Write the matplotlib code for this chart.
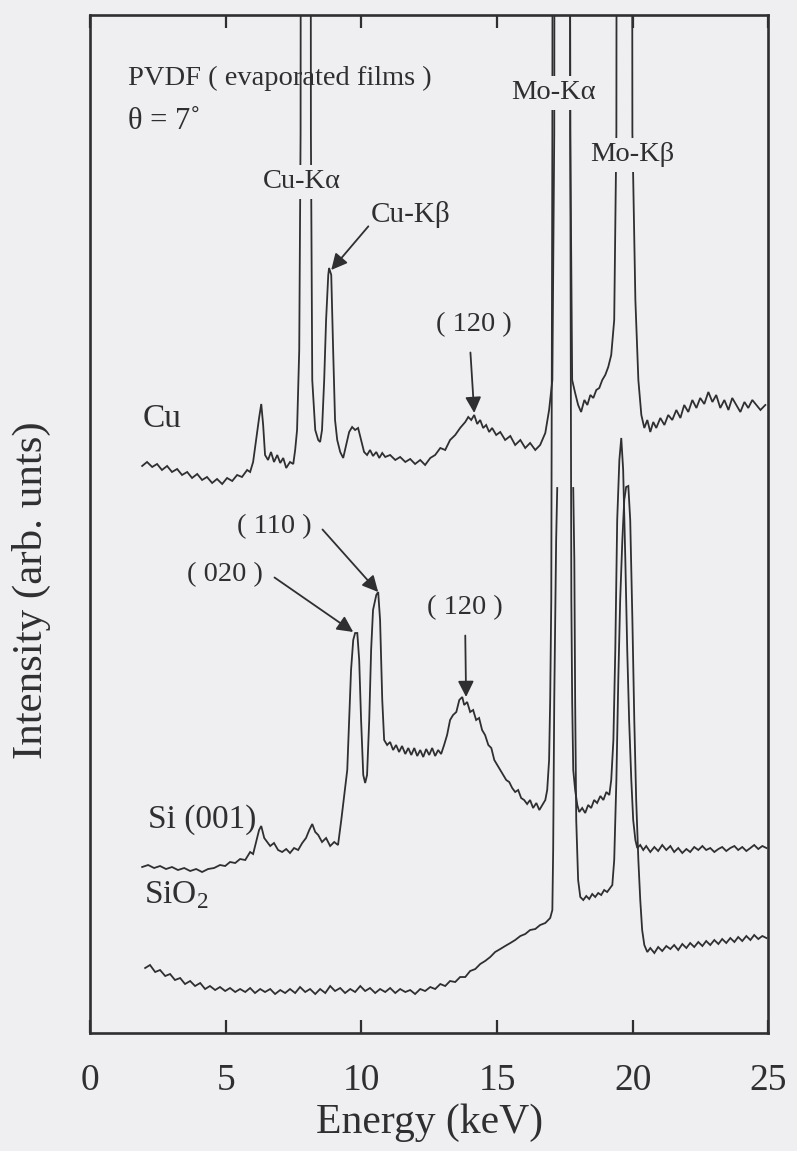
import matplotlib

matplotlib.use("Agg")
import matplotlib.pyplot as plt
import numpy as np

# ---- data (energy in keV, intensity in arb. units) ----
# very large values mark peaks that run off the top of the frame;
# NaN marks where the plotted SiO2 trace was cut off.
cu_energy = [
    1.92, 2.10, 2.29, 2.47, 2.65, 2.84, 3.02, 3.21, 3.39, 3.58, 3.76, 3.95, 4.13, 4.31, 4.50,
    4.68, 4.87, 5.05, 5.24, 5.42, 5.60, 5.79, 5.90, 6.01, 6.12, 6.23, 6.31, 6.38, 6.45, 6.56,
    6.67, 6.78, 6.90, 7.01, 7.12, 7.23, 7.37, 7.49, 7.56, 7.63, 7.71, 7.76, 7.95, 8.14, 8.19,
    8.30, 8.41, 8.48, 8.55, 8.63, 8.70, 8.78, 8.81, 8.89, 8.96, 9.03, 9.11, 9.22, 9.33, 9.44,
    9.55, 9.66, 9.77, 9.88, 9.99, 10.10, 10.21, 10.32, 10.43, 10.55, 10.66, 10.77, 10.88, 11.06,
    11.25, 11.43, 11.62, 11.80, 11.98, 12.17, 12.35, 12.54, 12.72, 12.91, 13.09, 13.27, 13.46,
    13.64, 13.83, 13.94, 14.05, 14.16, 14.27, 14.38, 14.49, 14.60, 14.71, 14.82, 14.97, 15.12,
    15.30, 15.49, 15.67, 15.86, 16.04, 16.22, 16.41, 16.59, 16.78, 16.92, 17.04, 17.11, 17.40,
    17.70, 17.77, 17.88, 17.99, 18.10, 18.22, 18.33, 18.44, 18.55, 18.66, 18.77, 18.88, 18.99,
    19.10, 19.21, 19.32, 19.40, 19.69, 19.99, 20.10, 20.21, 20.32, 20.43, 20.54, 20.65, 20.76,
    20.87, 21.02, 21.17, 21.31, 21.46, 21.61, 21.76, 21.90, 22.05, 22.20, 22.35, 22.49, 22.64,
    22.79, 22.94, 23.08, 23.23, 23.38, 23.53, 23.67, 23.82, 23.97, 24.12, 24.26, 24.41, 24.56,
    24.71, 24.89,
]
cu_intensity = [
    567, 571, 566, 569, 563, 567, 561, 564, 558, 561, 555, 559, 553, 556, 550,
    554, 549, 555, 552, 558, 556, 563, 561, 571, 593, 615, 629, 608, 578, 573,
    581, 571, 578, 570, 575, 565, 571, 569, 583, 603, 683, 900, 8000, 900, 653,
    603, 593, 591, 603, 653, 713, 758, 765, 758, 683, 613, 593, 581, 575, 588,
    601, 606, 603, 605, 593, 581, 578, 583, 577, 581, 575, 580, 576, 578,
    573, 576, 571, 574, 569, 573, 568, 575, 578, 585, 583, 593, 598,
    605, 611, 616, 613, 618, 609, 613, 605, 608, 601, 605, 598, 601,
    593, 597, 588, 593, 585, 590, 583, 588, 600, 623, 653, 900, 9000,
    900, 653, 640, 628, 621, 633, 628, 638, 635, 643, 645, 653, 658,
    666, 678, 713, 900, 9000, 900, 733, 653, 618, 605, 613, 601, 611,
    605, 615, 608, 618, 613, 623, 615, 628, 621, 633, 625, 635, 629,
    641, 631, 638, 625, 633, 623, 635, 628, 621, 631, 625, 633, 628,
    623, 628,
]

si_energy = [
    1.92, 2.14, 2.36, 2.58, 2.80, 3.02, 3.24, 3.47, 3.69, 3.91, 4.13, 4.35, 4.57, 4.79, 4.98,
    5.16, 5.35, 5.53, 5.72, 5.90, 6.01, 6.12, 6.23, 6.31, 6.42, 6.53, 6.64, 6.78, 6.93, 7.08,
    7.23, 7.37, 7.52, 7.67, 7.82, 7.96, 8.08, 8.19, 8.30, 8.41, 8.55, 8.70, 8.85, 9.00, 9.14,
    9.26, 9.37, 9.48, 9.55, 9.62, 9.70, 9.77, 9.85, 9.92, 9.99, 10.07, 10.14, 10.21, 10.29,
    10.36, 10.43, 10.55, 10.62, 10.69, 10.77, 10.84, 10.95, 11.06, 11.17, 11.28, 11.39, 11.50,
    11.62, 11.73, 11.84, 11.95, 12.06, 12.17, 12.28, 12.39, 12.50, 12.61, 12.72, 12.83, 12.94,
    13.05, 13.16, 13.27, 13.38, 13.50, 13.61, 13.72, 13.79, 13.90, 14.01, 14.12, 14.23, 14.34,
    14.45, 14.56, 14.68, 14.79, 14.90, 15.01, 15.12, 15.23, 15.34, 15.45, 15.56, 15.67, 15.78,
    15.89, 16.00, 16.11, 16.22, 16.33, 16.45, 16.56, 16.67, 16.78, 16.85, 16.92, 16.96, 17.00,
    17.04, 17.33, 17.70, 17.74, 17.77, 17.81, 17.88, 17.96, 18.03, 18.14, 18.25, 18.36, 18.47,
    18.58, 18.69, 18.81, 18.92, 19.03, 19.14, 19.21, 19.29, 19.36, 19.43, 19.51, 19.58, 19.65,
    19.73, 19.80, 19.87, 19.95, 20.02, 20.10, 20.17, 20.28, 20.39, 20.50, 20.65, 20.80, 20.94,
    21.09, 21.24, 21.39, 21.53, 21.68, 21.83, 21.98, 22.12, 22.27, 22.42, 22.57, 22.71, 22.86,
    23.01, 23.16, 23.30, 23.45, 23.60, 23.75, 23.89, 24.04, 24.19, 24.34, 24.48, 24.63, 24.78,
    24.93,
]
si_intensity = [
    166, 168, 165, 167, 164, 166, 163, 165, 162, 164, 161, 164, 165, 168, 167,
    171, 170, 174, 173, 181, 179, 191, 203, 207, 195, 191, 187, 190, 183, 181,
    184, 180, 185, 183, 190, 195, 203, 209, 201, 198, 191, 195, 187, 191, 188,
    213, 238, 263, 313, 363, 393, 400, 400, 373, 313, 258, 250, 258, 313,
    383, 423, 438, 441, 413, 333, 293, 288, 291, 283, 288, 281, 287,
    279, 285, 278, 285, 277, 283, 276, 284, 278, 285, 277, 283, 279,
    288, 298, 313, 318, 321, 333, 336, 328, 331, 321, 323, 313, 315,
    303, 298, 288, 285, 273, 268, 263, 258, 253, 251, 245, 241, 243,
    235, 233, 229, 233, 225, 230, 223, 228, 233, 243, 273, 333, 433,
    900, 9000, 900, 433, 333, 263, 243, 228, 221, 225, 220, 228, 225,
    233, 230, 237, 233, 241, 238, 253, 293, 383, 513, 573, 595, 563,
    473, 383, 313, 253, 213, 193, 185, 188, 183, 187, 181, 186, 182,
    188, 183, 187, 181, 185, 180, 184, 181, 186, 183, 187, 183, 185,
    181, 184, 186, 182, 185, 187, 183, 186, 182, 185, 188, 184, 187,
    185,
]

sio2_energy = [
    2.03, 2.21, 2.40, 2.58, 2.77, 2.95, 3.13, 3.32, 3.50, 3.69, 3.87, 4.06, 4.24, 4.42, 4.61,
    4.79, 4.98, 5.16, 5.35, 5.53, 5.72, 5.90, 6.08, 6.27, 6.45, 6.64, 6.82, 7.01, 7.19, 7.37,
    7.56, 7.74, 7.93, 8.11, 8.30, 8.48, 8.67, 8.85, 9.03, 9.22, 9.40, 9.59, 9.77, 9.96, 10.14,
    10.32, 10.51, 10.69, 10.88, 11.06, 11.25, 11.43, 11.62, 11.80, 11.98, 12.17, 12.35, 12.54,
    12.72, 12.91, 13.09, 13.27, 13.46, 13.64, 13.83, 14.01, 14.20, 14.38, 14.56, 14.75, 14.93,
    15.12, 15.30, 15.49, 15.67, 15.86, 16.04, 16.22, 16.41, 16.59, 16.78, 16.96, 17.04, 17.07,
    17.11, 17.18, 17.22, 17.50, 17.81, 17.85, 17.88, 17.92, 17.99, 18.07, 18.18, 18.29, 18.40,
    18.51, 18.62, 18.73, 18.84, 18.95, 19.06, 19.17, 19.25, 19.32, 19.40, 19.47, 19.54, 19.62,
    19.69, 19.76, 19.84, 19.91, 19.99, 20.06, 20.13, 20.21, 20.28, 20.35, 20.43, 20.54, 20.65,
    20.80, 20.94, 21.09, 21.24, 21.39, 21.53, 21.68, 21.83, 21.98, 22.12, 22.27, 22.42, 22.57,
    22.71, 22.86, 23.01, 23.16, 23.30, 23.45, 23.60, 23.75, 23.89, 24.04, 24.19, 24.34, 24.48,
    24.63, 24.78, 24.93,
]
sio2_intensity = [
    65, 68, 61, 63, 57, 59, 53, 55, 49, 52, 47, 50, 44, 47, 43,
    46, 42, 45, 41, 44, 41, 45, 40, 44, 41, 44, 39, 43, 40, 44,
    40, 46, 41, 44, 39, 44, 40, 47, 42, 45, 40, 44, 41, 47, 42,
    45, 40, 44, 41, 45, 40, 44, 41, 43, 39, 44, 42, 46,
    44, 49, 47, 52, 51, 56, 56, 62, 64, 69, 72, 76, 81,
    84, 87, 90, 93, 97, 99, 103, 104, 108, 110, 115, 123, 183,
    333, 493, 545, np.nan, 545, 473, 333, 213, 153, 136, 133, 137, 134,
    139, 136, 140, 138, 143, 141, 145, 148, 173, 253, 353, 433, 493,
    533, 546, 547, 513, 413, 313, 233, 173, 133, 103, 88, 81, 85,
    80, 86, 82, 87, 84, 88, 83, 89, 85, 90, 86, 91, 87,
    92, 88, 93, 89, 94, 90, 95, 91, 96, 92, 97, 93, 98,
    94, 97, 95,
]

x_ticks = [0, 5, 10, 15, 20, 25]

INK = "#2f2f31"
PAPER = "#efeff1"
SERIF = ["Liberation Serif", "DejaVu Serif"]

plt.rcParams["font.family"] = SERIF
plt.rcParams["text.color"] = INK
plt.rcParams["mathtext.fontset"] = "custom"
plt.rcParams["mathtext.rm"] = "Liberation Serif"

fig = plt.figure(figsize=(7.97, 11.51), dpi=100, facecolor=PAPER)
ax = fig.add_axes([0.113, 0.1025, 0.851, 0.8845], facecolor=PAPER)

for energy, intensity in (
    (cu_energy, cu_intensity),
    (si_energy, si_intensity),
    (sio2_energy, sio2_intensity),
):
    ax.plot(energy, np.asarray(intensity, dtype=float), color=INK, lw=1.3, solid_joinstyle="miter")

ax.set_xlim(0, 25)
ax.set_ylim(0, 1018)
ax.set_xticks(x_ticks)
ax.set_xticklabels([str(t) for t in x_ticks])
ax.set_yticks([])
ax.tick_params(axis="x", direction="in", top=True, length=9.5, width=1.6,
               color=INK, labelsize=27, labelcolor=INK, pad=22)
for spine in ax.spines.values():
    spine.set_linewidth(1.9)
    spine.set_color(INK)

ax.set_xlabel("Energy (keV)", fontsize=30, color=INK, labelpad=4)
ax.set_ylabel("Intensity (arb. unts)", fontsize=31, color=INK)
ax.yaxis.set_label_coords(-0.058, 0.435)

label_box = dict(boxstyle="square,pad=0.15", fc=PAPER, ec="none")
arrow = dict(arrowstyle="-|>", color=INK, lw=1.3, mutation_scale=24, shrinkA=0, shrinkB=0)

ax.text(1.40, 955, "PVDF ( evaporated films )", fontsize=20.5, ha="left", va="center")
ax.text(1.40, 911, "θ = 7˚", fontsize=22, ha="left", va="center")
ax.text(7.82, 851, "Cu-Kα", fontsize=20.5, ha="center", va="center", bbox=label_box)
ax.text(17.07, 940, "Mo-Kα", fontsize=20.5, ha="center", va="center", bbox=label_box)
ax.text(19.99, 878, "Mo-Kβ", fontsize=20.5, ha="center", va="center", bbox=label_box)
ax.annotate("Cu-Kβ", xy=(8.89, 763), xytext=(10.36, 818), fontsize=21,
            ha="left", va="center", arrowprops=dict(arrow, relpos=(0.0, 0.2)))
ax.annotate("( 120 )", xy=(14.16, 620), xytext=(14.16, 708), fontsize=20.5,
            ha="center", va="center", arrowprops=dict(arrow, relpos=(0.45, -0.6)))
ax.text(1.92, 614, "Cu", fontsize=24, ha="left", va="center")
ax.annotate("( 110 )", xy=(10.62, 441), xytext=(6.78, 506), fontsize=20.5,
            ha="center", va="center", arrowprops=dict(arrow, relpos=(1.15, 0.4)))
ax.annotate("( 020 )", xy=(9.70, 401), xytext=(4.98, 458), fontsize=20.5,
            ha="center", va="center", arrowprops=dict(arrow, relpos=(1.15, 0.4)))
ax.annotate("( 120 )", xy=(13.86, 336), xytext=(13.83, 425), fontsize=20.5,
            ha="center", va="center", arrowprops=dict(arrow, relpos=(0.5, -0.6)))
ax.text(2.14, 213, "Si (001)", fontsize=24, ha="left", va="center")
ax.text(1.97, 138, r"SiO$_\mathrm{2}$", fontsize=24, ha="left", va="center")

fig.savefig("out.png", dpi=100, facecolor=PAPER)
